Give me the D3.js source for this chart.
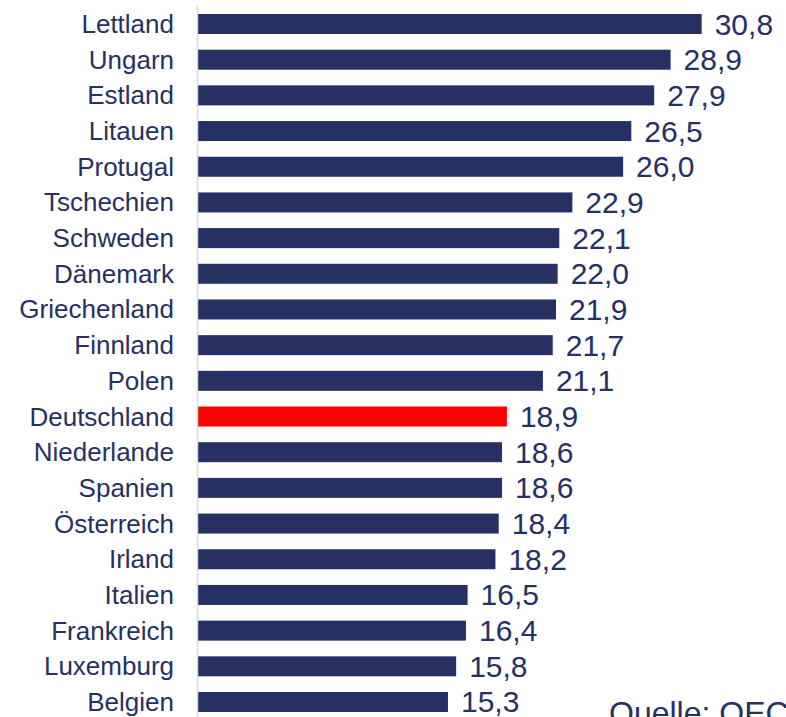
<!DOCTYPE html>
<html><head><meta charset="utf-8">
<script src="https://cdn.jsdelivr.net/npm/d3@7"></script>
<style>html,body{margin:0;padding:0;background:#fff;overflow:hidden}</style>
</head><body>
<svg id="c" width="786" height="717"></svg>
<script>
const categories = ["Lettland","Ungarn","Estland","Litauen","Protugal","Tschechien","Schweden","Dänemark","Griechenland","Finnland","Polen","Deutschland","Niederlande","Spanien","Österreich","Irland","Italien","Frankreich","Luxemburg","Belgien"];
const values = [30.8,28.9,27.9,26.5,26.0,22.9,22.1,22.0,21.9,21.7,21.1,18.9,18.6,18.6,18.4,18.2,16.5,16.4,15.8,15.3];
const highlight = "Deutschland";
const sourceText = "Quelle: OECD";

const navy = "#263063", red = "#ff0000", font = "Liberation Sans, Arial, sans-serif";
const svg = d3.select("#c");
const x = d3.scaleLinear().domain([0, 31]).range([197.5, 197.5 + 31 * 16.37]);
const y = d3.scaleBand().domain(categories).range([14, 712]).paddingInner(0.4395).paddingOuter(0);

svg.selectAll("rect.bar").data(categories).join("rect")
  .attr("x", x(0)).attr("y", d => y(d))
  .attr("width", (d, i) => x(values[i]) - x(0)).attr("height", y.bandwidth())
  .attr("fill", d => d === highlight ? red : navy);

svg.append("line").attr("x1", 197.5).attr("x2", 197.5).attr("y1", 5).attr("y2", 717)
  .attr("stroke", "#d6d9ea").attr("stroke-width", 1.5);

svg.selectAll("text.cat").data(categories).join("text")
  .attr("x", 174).attr("y", d => y(d) + y.bandwidth() / 2 + 9)
  .attr("text-anchor", "end").attr("font-family", font).attr("font-size", 26)
  .attr("fill", navy).text(d => d);

svg.selectAll("text.val").data(categories).join("text")
  .attr("x", (d, i) => x(values[i]) + 13).attr("y", d => y(d) + y.bandwidth() / 2 + 10.5)
  .attr("font-family", font).attr("font-size", 30).attr("fill", navy)
  .text((d, i) => d3.format(".1f")(values[i]).replace(".", ","));

svg.append("text").attr("x", 609).attr("y", 724).attr("font-family", font)
  .attr("font-size", 32).attr("fill", navy).text(sourceText);
</script>
</body></html>
